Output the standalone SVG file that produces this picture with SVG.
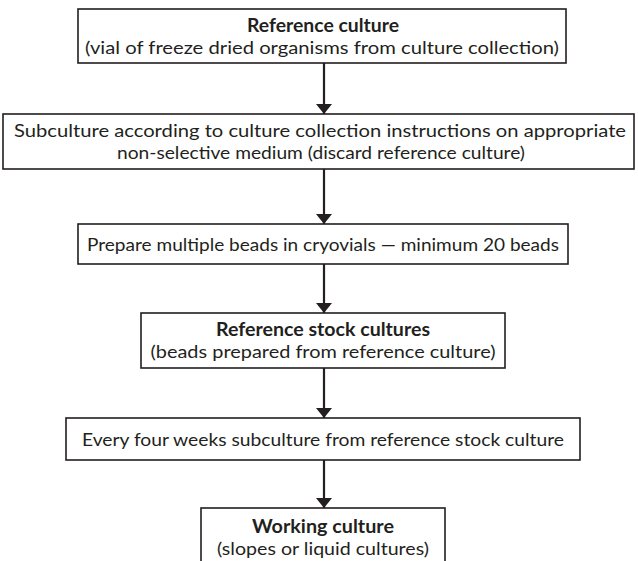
<svg xmlns="http://www.w3.org/2000/svg" width="638" height="561" viewBox="0 0 638 561">
<defs>
<style>
.box{fill:#fff;stroke:#231f20;stroke-width:1.6}
.t{font-family:Lato,"Open Sans",sans-serif;font-size:18px;fill:#231f20;text-anchor:middle}
.b{font-weight:bold}
.c{stroke:#231f20;stroke-width:2.2;fill:none;marker-end:url(#ah)}
</style>
<marker id="ah" viewBox="0 0 10 16" refX="10" refY="8" markerWidth="10" markerHeight="16" markerUnits="userSpaceOnUse" orient="auto">
<path d="M0,0 L10,8 L0,16 Z" fill="#231f20"/>
</marker>
</defs>
<rect width="638" height="561" fill="#fff"/>
<g id="connectors">
<line class="c" x1="324" y1="63" x2="324" y2="114"/>
<line class="c" x1="324" y1="169" x2="324" y2="224"/>
<line class="c" x1="324" y1="264" x2="324" y2="313"/>
<line class="c" x1="324" y1="368" x2="324" y2="418"/>
<line class="c" x1="324" y1="460" x2="324" y2="508"/>
</g>
<g id="n1">
<rect class="box" x="78" y="9" width="488" height="54"/>
<text class="t b" x="323" y="31.5" textLength="152" lengthAdjust="spacingAndGlyphs">Reference culture</text>
<text class="t" x="322" y="53.5" textLength="474" lengthAdjust="spacingAndGlyphs">(vial of freeze dried organisms from culture collection)</text>
</g>
<g id="n2">
<rect class="box" x="3" y="114" width="631" height="55"/>
<text class="t" x="320" y="137" textLength="612" lengthAdjust="spacingAndGlyphs">Subculture according to culture collection instructions on appropriate</text>
<text class="t" x="321" y="159" textLength="408" lengthAdjust="spacingAndGlyphs">non-selective medium (discard reference culture)</text>
</g>
<g id="n3">
<rect class="box" x="78" y="224" width="490" height="40"/>
<text class="t" x="323" y="250.5" textLength="472" lengthAdjust="spacingAndGlyphs">Prepare multiple beads in cryovials — minimum 20 beads</text>
</g>
<g id="n4">
<rect class="box" x="141" y="313" width="364" height="55"/>
<text class="t b" x="323" y="336" textLength="214" lengthAdjust="spacingAndGlyphs">Reference stock cultures</text>
<text class="t" x="323" y="358" textLength="345" lengthAdjust="spacingAndGlyphs">(beads prepared from reference culture)</text>
</g>
<g id="n5">
<rect class="box" x="66" y="418" width="514" height="42"/>
<text class="t" x="323" y="445.5" textLength="482" lengthAdjust="spacingAndGlyphs">Every four weeks subculture from reference stock culture</text>
</g>
<g id="n6">
<rect class="box" x="201" y="508" width="244" height="62"/>
<text class="t b" x="323" y="533" textLength="142" lengthAdjust="spacingAndGlyphs">Working culture</text>
<text class="t" x="323" y="555" textLength="212" lengthAdjust="spacingAndGlyphs">(slopes or liquid cultures)</text>
</g>
</svg>
